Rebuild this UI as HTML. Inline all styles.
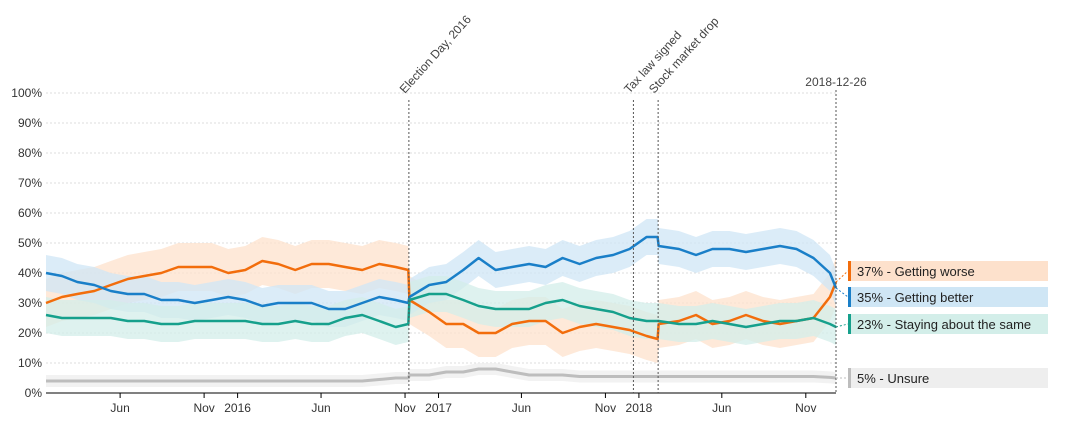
<!DOCTYPE html>
<html><head><meta charset="utf-8"><style>
body{margin:0;background:#fff;font-family:"Liberation Sans",sans-serif}
svg text{font-family:"Liberation Sans",sans-serif}
</style></head><body>
<svg id="c" width="1082" height="439"></svg>
<script>
const dates=["2015-01-17","2015-02-15","2015-03-15","2015-04-15","2015-05-15","2015-06-15","2015-07-15","2015-08-15","2015-09-15","2015-10-15","2015-11-15","2015-12-15",
"2016-01-15","2016-02-15","2016-03-15","2016-04-15","2016-05-15","2016-06-15","2016-07-15","2016-08-15","2016-09-15","2016-10-15","2016-11-07","2016-11-09","2016-12-15",
"2017-01-15","2017-02-15","2017-03-15","2017-04-15","2017-05-15","2017-06-15","2017-07-15","2017-08-15","2017-09-15","2017-10-15","2017-11-15","2017-12-15",
"2018-01-15","2018-02-04","2018-02-06","2018-03-15","2018-04-15","2018-05-15","2018-06-15","2018-07-15","2018-08-15","2018-09-15","2018-10-15","2018-11-15","2018-12-15","2018-12-26"];
const worse=[30,32,33,34,36,38,39,40,42,42,42,40,41,44,43,41,43,43,42,41,43,42,41,31,27,23,23,20,20,23,24,24,20,22,23,22,21,19,18,23,24,26,23,24,26,24,23,24,25,32,37];
const better=[40,39,37,36,34,33,33,31,31,30,31,32,31,29,30,30,30,28,28,30,32,31,30,32,36,37,41,45,41,42,43,42,45,43,45,46,48,52,52,49,48,46,48,48,47,48,49,48,45,40,35];
const same=[26,25,25,25,25,24,24,23,23,24,24,24,24,23,23,24,23,23,25,26,24,22,23,31,33,33,31,29,28,28,28,30,31,29,28,27,25,24,24,24,23,23,24,23,22,23,24,24,25,23,22];
const unsure=[4,4,4,4,4,4,4,4,4,4,4,4,4,4,4,4,4,4,4,4,4.5,5,5,6,6,7,7,8,8,7,6,6,6,5.5,5.5,5.5,5.5,5.5,5.5,5.5,5.5,5.5,5.5,5.5,5.5,5.5,5.5,5.5,5.5,5.2,5];
const ciHalf=[8,6,6,2];
const yTicks=[0,10,20,30,40,50,60,70,80,90,100];
const xTickLabels=[["2015-06-01","Jun"],["2015-11-01","Nov"],["2016-01-01","2016"],["2016-06-01","Jun"],["2016-11-01","Nov"],["2017-01-01","2017"],["2017-06-01","Jun"],["2017-11-01","Nov"],["2018-01-01","2018"],["2018-06-01","Jun"],["2018-11-01","Nov"]];
const events=[["2016-11-08","Election Day, 2016"],["2017-12-22","Tax law signed"],["2018-02-05","Stock market drop"]];
const NS="http://www.w3.org/2000/svg",svg=document.getElementById('c');
const t0=Date.parse("2015-01-17"),t1=Date.parse("2018-12-26");
const X=d=>46+(Date.parse(d)-t0)/(t1-t0)*(836-46);
const Y=v=>393-v*3;
function el(tag,a,p){const e=document.createElementNS(NS,tag);for(const k in a)e.setAttribute(k,a[k]);(p||svg).appendChild(e);return e;}
yTicks.forEach(v=>{
 if(v>0){const g=el('line',{x1:46,x2:836,y1:Y(v),y2:Y(v),stroke:'#ddd','stroke-dasharray':'2,2'});
 
 }
 const t=el('text',{x:42,y:Y(v)+4,'text-anchor':'end','font-size':12,fill:'#333'});t.textContent=v+'%';
 
 
});
const series=[[worse,'#f26d0c','#fde1cc','37% - Getting worse',0],[better,'#1a7fc8','#cfe6f5','35% - Getting better',1],[same,'#16a08c','#d3eee9','23% - Staying about the same',2],[unsure,'#bdbdbd','#eeeeee','5% - Unsure',3]];
const names=['worse','better','same','unsure'];
series.forEach(([vals,c,bc,lab,i])=>{
 const h=ciHalf[i];
 let up=vals.map((v,j)=>X(dates[j])+','+Y(v+h)),dn=vals.map((v,j)=>X(dates[j])+','+Y(Math.max(0,v-h))).reverse();
 const b=el('polygon',{points:up.concat(dn).join(' '),fill:bc,opacity:0.75});
 
 
});
series.forEach(([vals,c,bc,lab,i])=>{
 const l=el('polyline',{points:vals.map((v,j)=>X(dates[j])+','+Y(v)).join(' '),fill:'none',stroke:c,'stroke-width':i==3?3:2.5,'stroke-linejoin':'round'});
 
 
});
el('line',{x1:46,x2:836,y1:393,y2:393,stroke:'#000'});
xTickLabels.forEach(([d,s])=>{
 el('line',{x1:X(d),x2:X(d),y1:393,y2:398,stroke:'#000'});
 const t=el('text',{x:X(d),y:412,'text-anchor':'middle','font-size':12,fill:'#333'});t.textContent=s;
 
 
});
events.forEach(([d,s])=>{
 const x=X(d);
 el('line',{x1:x,x2:x,y1:100,y2:393,stroke:'#555','stroke-dasharray':'2,2'});
 const t=el('text',{x:x-4,y:94,'font-size':12,fill:'#444',transform:`rotate(-48 ${x-4} 94)`});t.textContent=s;
 
 
});
el('line',{x1:836,x2:836,y1:90,y2:393,stroke:'#555','stroke-dasharray':'2,2'});
const dt=el('text',{x:836,y:86,'text-anchor':'middle','font-size':12,fill:'#444'});dt.textContent='2018-12-26';


const boxY=[261,287,314,368];
series.forEach(([vals,c,bc,lab,i])=>{
 const y=boxY[i];
 el('line',{x1:836,y1:Y(vals[vals.length-1]),x2:848,y2:y+10,stroke:c,'stroke-dasharray':'2,2'});
 const r=el('rect',{x:848,y:y,width:200,height:20,fill:bc});
 
 
 el('rect',{x:848,y:y,width:3,height:20,fill:c});
 const t=el('text',{x:857,y:y+15,'font-size':13,fill:'#222'});t.textContent=lab;
 
 
});
</script>
</body></html>
